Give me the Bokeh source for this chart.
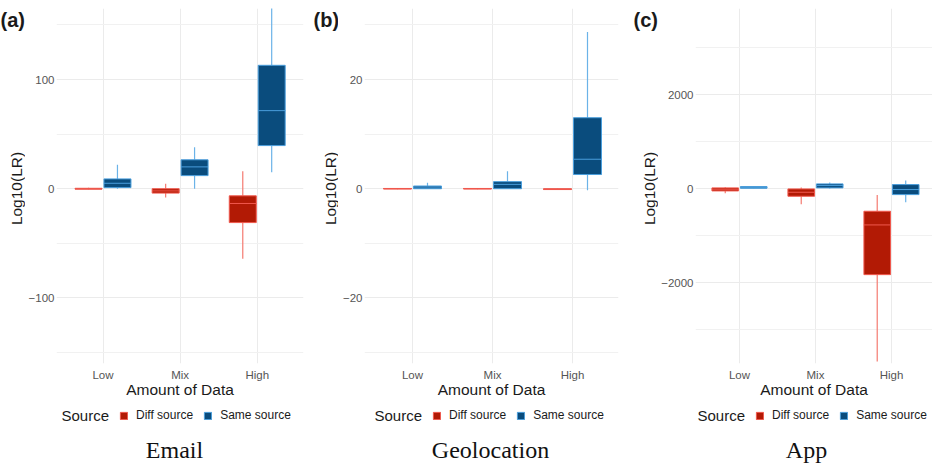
import math
from bokeh.plotting import figure
from bokeh.models import Range1d, FixedTicker, Label, Legend, LegendItem
from bokeh.layouts import row, column
from bokeh.embed import file_html
from bokeh.resources import INLINE

categories = ["Low", "Mix", "High"]
source_names = ["Diff source", "Same source"]

# ---- Email (a) ----
email_diff_lower = [-0.8, -8.0, -64.0]
email_diff_q1 = [-0.4, -4.0, -31.0]
email_diff_median = [0.0, -2.0, -13.5]
email_diff_q3 = [0.4, 0.0, -6.5]
email_diff_upper = [0.8, 4.6, 16.0]
email_same_lower = [0.0, 0.0, 15.0]
email_same_q1 = [1.0, 12.0, 39.5]
email_same_median = [5.0, 20.0, 71.5]
email_same_q3 = [9.0, 26.5, 113.0]
email_same_upper = [22.0, 38.0, 175.0]
email_ticks = [-100, 0, 100]
email_minor = [-150, -50, 50, 150]

# ---- Geolocation (b) ----
geo_diff_lower = [-0.1, -0.1, -0.2]
geo_diff_q1 = [-0.05, -0.05, -0.15]
geo_diff_median = [0.0, 0.0, -0.1]
geo_diff_q3 = [0.05, 0.05, 0.0]
geo_diff_upper = [0.1, 0.1, 0.05]
geo_same_lower = [0.0, 0.0, -0.3]
geo_same_q1 = [0.0, 0.0, 2.6]
geo_same_median = [0.3, 0.8, 5.4]
geo_same_q3 = [0.5, 1.3, 13.0]
geo_same_upper = [1.1, 3.2, 28.7]
geo_ticks = [-20, 0, 20]
geo_minor = [-30, -10, 10, 30]

# ---- App (c) ----
app_diff_lower = [-100.0, -334.0, -3680.0]
app_diff_q1 = [-50.0, -163.0, -1830.0]
app_diff_median = [-14.0, -78.0, -773.0]
app_diff_q3 = [15.0, -7.0, -482.0]
app_diff_upper = [28.0, 21.0, -134.0]
app_same_lower = [0.0, 0.0, -291.0]
app_same_q1 = [7.0, 15.0, -128.0]
app_same_median = [21.0, 64.0, -21.0]
app_same_q3 = [43.0, 100.0, 85.0]
app_same_upper = [50.0, 128.0, 170.0]
app_ticks = [-2000, 0, 2000]
app_minor = [-3000, -1000, 1000, 3000]

DIFF_FILL = "#B21A05"
DIFF_LINE = "#F0584D"
DIFF_WHISKER = "#F47A70"
SAME_FILL = "#0A4C7D"
SAME_LINE = "#4A9EDC"
SAME_WHISKER = "#6BB3E8"
GRID = "#EBEBEB"
SANS = "Liberation Sans"
TEXT = "#1A1A1A"

OFFSET = 0.1875
BOXW = 0.35
MAIN_H = 404
BOTTOM_H = 60
FRAME_TOP = 8
FRAME_BOTTOM = 363


def blank_fig(width, height):
    f = figure(width=width, height=height, output_backend="svg", toolbar_location=None,
               x_range=Range1d(0, 1), y_range=Range1d(0, 1),
               x_axis_location=None, y_axis_location=None,
               min_border_left=0, min_border_right=0, min_border_top=0,
               min_border_bottom=0)
    f.xgrid.visible = False
    f.ygrid.visible = False
    f.outline_line_color = None
    f.background_fill_color = "white"
    f.border_fill_color = "white"
    return f


def make_panel(letter, caption, diff, same, yr, ticks, minor, xr, width,
               left_w, axis_w, br, letter_x, ylab_x, src_x, cap_x):
    # main plotting figure
    p = figure(width=width - left_w, height=MAIN_H, output_backend="svg",
               toolbar_location=None, x_range=Range1d(*xr), y_range=Range1d(*yr),
               min_border_left=axis_w, min_border_right=br,
               min_border_top=FRAME_TOP, min_border_bottom=MAIN_H - FRAME_BOTTOM)
    p.outline_line_color = None
    p.background_fill_color = "white"
    p.border_fill_color = "white"

    for stats, off, fill, line, wcol in ((diff, -OFFSET, DIFF_FILL, DIFF_LINE, DIFF_WHISKER),
                                         (same, OFFSET, SAME_FILL, SAME_LINE, SAME_WHISKER)):
        lower, q1, med, q3, upper = stats
        xs = [i + 1 + off for i in range(len(categories))]
        p.segment(x0=xs, y0=lower, x1=xs, y1=q1, line_color=wcol, line_width=1.2)
        p.segment(x0=xs, y0=q3, x1=xs, y1=upper, line_color=wcol, line_width=1.2)
        p.vbar(x=xs, width=BOXW, bottom=q1, top=q3, fill_color=fill,
               line_color=line, line_width=1)
        p.segment(x0=[x - BOXW / 2 for x in xs], y0=med,
                  x1=[x + BOXW / 2 for x in xs], y1=med,
                  line_color=line, line_width=1)

    p.xaxis.ticker = FixedTicker(ticks=[1, 2, 3])
    p.xaxis.major_label_overrides = {i + 1: c for i, c in enumerate(categories)}
    p.yaxis.ticker = FixedTicker(ticks=ticks, minor_ticks=minor)
    for ax in (p.xaxis[0], p.yaxis[0]):
        ax.axis_line_color = None
        ax.major_tick_line_color = None
        ax.minor_tick_line_color = None
        ax.major_tick_out = 0
        ax.major_tick_in = 0
        ax.minor_tick_out = 0
        ax.minor_tick_in = 0
        ax.major_label_text_font = SANS
        ax.major_label_text_font_size = "11.5px"
        ax.major_label_text_color = "#555555"
    p.xaxis.axis_label = "Amount of Data"
    p.xaxis.axis_label_text_font = SANS
    p.xaxis.axis_label_text_font_size = "15.5px"
    p.xaxis.axis_label_text_font_style = "normal"
    p.xaxis.axis_label_text_color = TEXT
    p.xaxis.major_label_standoff = 5
    p.xaxis.axis_label_standoff = -3
    p.yaxis.major_label_standoff = 2

    p.xgrid.grid_line_color = GRID
    p.ygrid.grid_line_color = GRID
    p.ygrid.minor_grid_line_color = "#F1F1F1"

    # left strip: panel letter and y-axis title (its frame is aligned with the
    # main frame, i.e. spans page rows FRAME_TOP..FRAME_BOTTOM)
    frame_h = FRAME_BOTTOM - FRAME_TOP
    lf = blank_fig(left_w, MAIN_H)
    lf.add_layout(Label(x=letter_x, y=frame_h, x_units="screen", y_units="screen",
                        text=letter, text_font=SANS, text_font_size="20px",
                        text_font_style="bold", text_color=TEXT,
                        text_baseline="top", text_align="left"))
    lf.add_layout(Label(x=ylab_x, y=FRAME_BOTTOM - 188, x_units="screen", y_units="screen",
                        text="Log10(LR)", text_font=SANS, text_font_size="15.5px",
                        text_color=TEXT, angle=math.pi / 2,
                        text_baseline="middle", text_align="center"))

    # bottom strip: legend and caption
    bf = blank_fig(width, BOTTOM_H)
    proxies = [bf.vbar(x=[5], width=0.1, top=[5], bottom=[4], fill_color=DIFF_FILL,
                       line_color=DIFF_LINE),
               bf.vbar(x=[5], width=0.1, top=[5], bottom=[4], fill_color=SAME_FILL,
                       line_color=SAME_LINE)]
    bf.add_layout(Label(x=src_x, y=49, x_units="screen", y_units="screen",
                        text="Source", text_font=SANS, text_font_size="15px",
                        text_color=TEXT, text_baseline="middle", text_align="left"))
    legend = Legend(items=[LegendItem(label=source_names[0], renderers=[proxies[0]]),
                           LegendItem(label=source_names[1], renderers=[proxies[1]])],
                    location=(src_x + 58, 42), orientation="horizontal",
                    glyph_width=9, glyph_height=9, label_height=12,
                    label_standoff=8, spacing=10, padding=0, margin=0,
                    border_line_color=None, background_fill_alpha=0,
                    label_text_font=SANS, label_text_font_size="12px",
                    label_text_color=TEXT)
    bf.add_layout(legend)
    bf.add_layout(Label(x=cap_x, y=15, x_units="screen", y_units="screen",
                        text=caption, text_font="Liberation Serif",
                        text_font_size="24px", text_color="#111111",
                        text_baseline="middle", text_align="center"))

    return column(row(lf, p), bf)


pa = make_panel("(a)", "Email",
                (email_diff_lower, email_diff_q1, email_diff_median, email_diff_q3, email_diff_upper),
                (email_same_lower, email_same_q1, email_same_median, email_same_q3, email_same_upper),
                (-160, 165), email_ticks, email_minor, (0.397, 3.60), 310,
                25, 28, 7, 0, 16, 61, 174)
pb = make_panel("(b)", "Geolocation",
                (geo_diff_lower, geo_diff_q1, geo_diff_median, geo_diff_q3, geo_diff_upper),
                (geo_same_lower, geo_same_q1, geo_same_median, geo_same_q3, geo_same_upper),
                (-32, 33), geo_ticks, geo_minor, (0.4, 3.575), 310,
                28, 26, 2, 3, 20, 64, 180)
pc = make_panel("(c)", "App",
                (app_diff_lower, app_diff_q1, app_diff_median, app_diff_q3, app_diff_upper),
                (app_same_lower, app_same_q1, app_same_median, app_same_q3, app_same_upper),
                (-3720, 3830), app_ticks, app_minor, (0.421, 3.54), 312,
                38, 37, 0, 13, 29, 77, 186)

layout = row(pa, pb, pc)
open("out.html", "w").write(file_html(layout, INLINE))
